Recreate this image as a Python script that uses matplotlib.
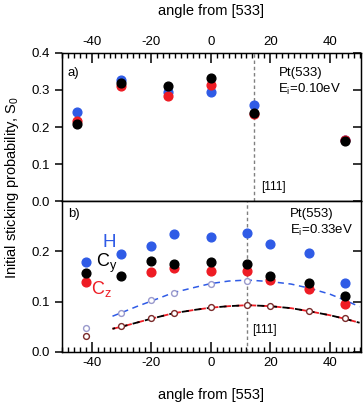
import numpy as np
import matplotlib.pyplot as plt
from matplotlib.ticker import MultipleLocator

plt.rcParams['font.family'] = ['Liberation Sans', 'DejaVu Sans']
plt.rcParams['axes.unicode_minus'] = False

# Pt(533), Ei = 0.10 eV
xa = np.array([-45, -30, -14.5, 0, 14.5, 45])
a_H = np.array([0.241, 0.327, 0.294, 0.294, 0.259, 0.165])
a_Cz = np.array([0.216, 0.311, 0.284, 0.313, 0.234, 0.165])
a_Cy = np.array([0.208, 0.320, 0.312, 0.333, 0.239, 0.162])

# Pt(553), Ei = 0.33 eV
xb = np.array([-42, -30, -20, -12.5, 0, 12.3, 20, 33, 45])
b_H = np.array([0.179, 0.195, 0.210, 0.234, 0.228, 0.236, 0.215, 0.197, 0.138])
b_Cy = np.array([0.158, 0.152, 0.181, 0.175, 0.179, 0.175, 0.152, 0.138, 0.112])
b_Cz = np.array([0.140, np.nan, 0.159, 0.167, 0.162, 0.161, 0.143, 0.125, 0.096])
b_open_H = np.array([0.048, 0.078, 0.103, 0.118, 0.136, 0.142, 0.141, 0.128, 0.103])
b_open_C = np.array([0.032, 0.051, 0.067, 0.077, 0.089, 0.093, 0.091, 0.081, 0.067])

# dashed fit curves
xfit = np.array([-33, -30, -25, -20, -12.5, -5, 0, 6, 12.3, 20, 27, 33, 40, 45, 50])
fit_H = np.array([0.071, 0.078, 0.090, 0.101, 0.118, 0.129, 0.136, 0.141, 0.143, 0.140, 0.135, 0.127, 0.115, 0.103, 0.090])
fit_C = np.array([0.046, 0.050, 0.058, 0.066, 0.077, 0.084, 0.088, 0.091, 0.093, 0.091, 0.087, 0.081, 0.073, 0.066, 0.058])

blue = '#2f5be6'
red = '#ee1c24'
lblue = '#9a9acc'
dred = '#7a2a2a'

fig = plt.figure(figsize=(3.64, 4.04), dpi=100)
ax1 = fig.add_axes([0.170, 0.502, 0.822, 0.367])
ax2 = fig.add_axes([0.170, 0.129, 0.822, 0.373])

ms = 6.3
# panel a
ax1.axvline(14.4, color='#808080', ls=(0, (2.5, 2)), lw=1)
ax1.plot(xa, a_H, 'o', color=blue, ms=ms)
ax1.plot(xa, a_Cz, 'o', color=red, ms=ms)
ax1.plot(xa, a_Cy, 'o', color='black', ms=ms)
ax1.set_xlim(-50, 50.5)
ax1.set_ylim(0, 0.4)
ax1.xaxis.tick_top()
ax1.xaxis.set_label_position('top')
ax1.set_xlabel('angle from [533]', fontsize=10.5, labelpad=15)
ax1.set_yticks([0, 0.1, 0.2, 0.3, 0.4])
ax1.set_yticklabels(['0.0', '0.1', '0.2', '0.3', '0.4'])
ax1.text(-48, 0.346, 'a)', fontsize=9.5, va='center')
ax1.text(23, 0.346, 'Pt(533)', fontsize=9.5, va='center')
ax1.text(22.5, 0.302, 'E$_\\mathregular{i}$=0.10eV', fontsize=9.5, va='center')
ax1.text(17, 0.038, '[111]', fontsize=8.5, va='center')

# panel b
ax2.axvline(12.3, color='#808080', ls=(0, (2.5, 2)), lw=1)
ax2.plot(xfit, fit_H, color=blue, ls=(0, (4, 3)), lw=1.1)
ax2.plot(xfit, fit_C, color=red, ls=(0, (4, 3)), lw=1.3)
ax2.plot(xfit, fit_C, color='black', ls=(2.5, (4, 3)), lw=1.3)
ax2.plot(xb, b_open_H, 'o', mfc='white', mec=lblue, ms=4.2, mew=1)
ax2.plot(xb, b_open_C, 'o', mfc='white', mec=dred, ms=4.2, mew=1)
ax2.plot(xb, b_H, 'o', color=blue, ms=ms)
ax2.plot(xb, b_Cz, 'o', color=red, ms=ms)
ax2.plot(xb, b_Cy, 'o', color='black', ms=ms)
ax2.set_xlim(-50, 50.5)
ax2.set_ylim(0, 0.3)
ax2.set_xlabel('angle from [553]', fontsize=10.5, labelpad=14)
ax2.set_yticks([0, 0.1, 0.2])
ax2.set_yticklabels(['0.0', '0.1', '0.2'])
ax2.text(-48, 0.274, 'b)', fontsize=9.5, va='center')
ax2.text(26.5, 0.274, 'Pt(553)', fontsize=9.5, va='center')
ax2.text(26.5, 0.241, 'E$_\\mathregular{i}$=0.33eV', fontsize=9.5, va='center')
ax2.text(13.8, 0.044, '[111]', fontsize=8.5, va='center')
ax2.text(-36.5, 0.218, 'H', fontsize=13.5, color=blue, va='center')
ax2.text(-38.5, 0.176, 'C$_\\mathregular{y}$', fontsize=13, color='black', va='center')
ax2.text(-40.3, 0.126, 'C$_\\mathregular{z}$', fontsize=13, color=red, va='center')

for ax in (ax1, ax2):
    ax.xaxis.set_major_locator(MultipleLocator(20))
    ax.xaxis.set_minor_locator(MultipleLocator(2))
    ax.tick_params(axis='x', which='major', direction='in', length=7, labelsize=9.5, width=1.1)
    ax.tick_params(axis='x', which='minor', direction='in', length=3.5, width=1)
    ax.tick_params(axis='y', direction='out', length=5, labelsize=9.5, width=1.1)
    for s in ax.spines.values():
        s.set_linewidth(1)
    # inward ticks on the right side
    tw = ax.twinx()
    tw.set_ylim(ax.get_ylim())
    tw.set_yticks(ax.get_yticks())
    tw.tick_params(axis='y', direction='in', length=6, width=1.1, labelright=False)

ax1.tick_params(axis='x', which='both', bottom=False)
ax2.tick_params(axis='x', which='both', top=False)

fig.text(0.033, 0.535, 'Initial sticking probability, S$_\\mathregular{0}$',
         rotation=90, va='center', ha='center', fontsize=10.5)

fig.savefig('out.png', dpi=100)
